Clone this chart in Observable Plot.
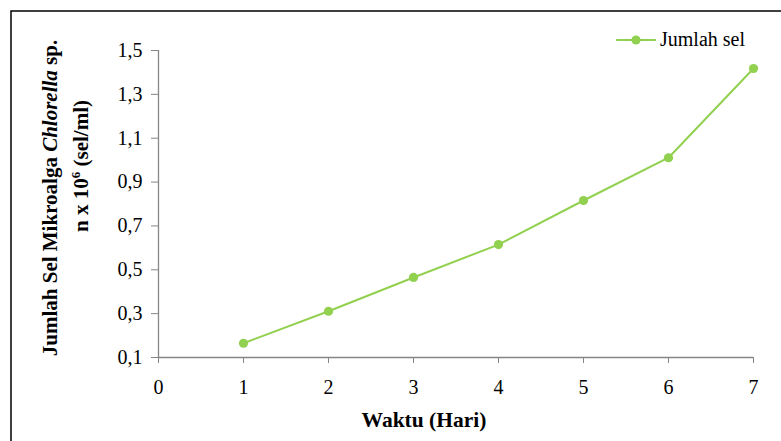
<!DOCTYPE html>
<html>
<head>
<meta charset="utf-8">
<script src="https://cdn.jsdelivr.net/npm/d3@7"></script>
<script src="https://cdn.jsdelivr.net/npm/@observablehq/plot@0.6"></script>
<style>
  html, body { margin: 0; padding: 0; background: #fff; }
  #chart { width: 781px; height: 441px; overflow: hidden; }
  #chart svg text { font-family: "Liberation Serif", "Times New Roman", serif; }
</style>
</head>
<body>
<div id="chart"></div>
<script>
// Data
const days = [1, 2, 3, 4, 5, 6, 7];
const cellCounts = [0.165, 0.311, 0.465, 0.615, 0.816, 1.011, 1.418];
const xTicks = [0, 1, 2, 3, 4, 5, 6, 7];
const yTicks = [0.1, 0.3, 0.5, 0.7, 0.9, 1.1, 1.3, 1.5];
const seriesName = "Jumlah sel";

const data = days.map((d, i) => ({day: d, value: cellCounts[i]}));

const green = "#92D050";
const axisGrey = "#868686";
const serif = "Liberation Serif, Times New Roman, serif";

const plot = Plot.plot({
  width: 781,
  height: 441,
  marginLeft: 158,
  marginRight: 28,
  marginTop: 50,
  marginBottom: 84,
  style: {fontFamily: serif, fontSize: "20px", color: "#000", background: "#fff"},
  x: {domain: [0, 7]},
  y: {domain: [0.1, 1.5]},
  marks: [
    Plot.ruleY([0.1], {stroke: axisGrey, strokeWidth: 1.3}),
    Plot.ruleX([0], {stroke: axisGrey, strokeWidth: 1.3}),
    Plot.axisX({ticks: xTicks, tickSize: 6, tickPadding: 16, stroke: axisGrey, fill: "#000", fontSize: 20, fontFamily: serif, label: null, tickFormat: d => String(d)}),
    Plot.axisY({ticks: yTicks, tickSize: 7, tickPadding: 9, stroke: axisGrey, fill: "#000", fontSize: 20, fontFamily: serif, label: null,
      tickFormat: d => d.toFixed(1).replace(".", ",")}),
    Plot.line(data, {x: "day", y: "value", stroke: green, strokeWidth: 2}),
    Plot.dot(data, {x: "day", y: "value", r: 4.6, fill: green, stroke: "none"})
  ]
});

document.getElementById("chart").appendChild(plot);

const svg = d3.select(plot);

// Outer border (left and top edges visible)
svg.append("path")
  .attr("d", "M11,445 V11 H785")
  .attr("fill", "none")
  .attr("stroke", "#000")
  .attr("stroke-width", 1.5);

// X axis title
svg.append("text")
  .attr("x", 424)
  .attr("y", 427)
  .attr("text-anchor", "middle")
  .attr("font-weight", "bold")
  .attr("font-size", 21.5)
  .attr("fill", "#000")
  .text("Waktu (Hari)");

// Y axis title line 1
const t1 = svg.append("text")
  .attr("transform", "translate(57,198) rotate(-90)")
  .attr("text-anchor", "middle")
  .attr("font-weight", "bold")
  .attr("font-size", 21)
  .attr("fill", "#000");
t1.append("tspan").text("Jumlah Sel Mikroalga ");
t1.append("tspan").attr("font-style", "italic").text("Chlorella");
t1.append("tspan").text(" sp.");

// Y axis title line 2
const t2 = svg.append("text")
  .attr("transform", "translate(88,166) rotate(-90)")
  .attr("text-anchor", "middle")
  .attr("font-weight", "bold")
  .attr("font-size", 21)
  .attr("fill", "#000");
t2.append("tspan").text("n x 10");
t2.append("tspan").attr("font-size", 13).attr("dy", -8).text("6");
t2.append("tspan").attr("dy", 8).text(" (sel/ml)");

// Legend
const lg = svg.append("g");
lg.append("line")
  .attr("x1", 616).attr("x2", 656).attr("y1", 40).attr("y2", 40)
  .attr("stroke", green).attr("stroke-width", 2);
lg.append("circle")
  .attr("cx", 636).attr("cy", 40).attr("r", 4.6).attr("fill", green);
lg.append("text")
  .attr("x", 660).attr("y", 46)
  .attr("text-anchor", "start")
  .attr("font-size", 20)
  .attr("fill", "#000")
  .text(seriesName);
</script>
</body>
</html>
